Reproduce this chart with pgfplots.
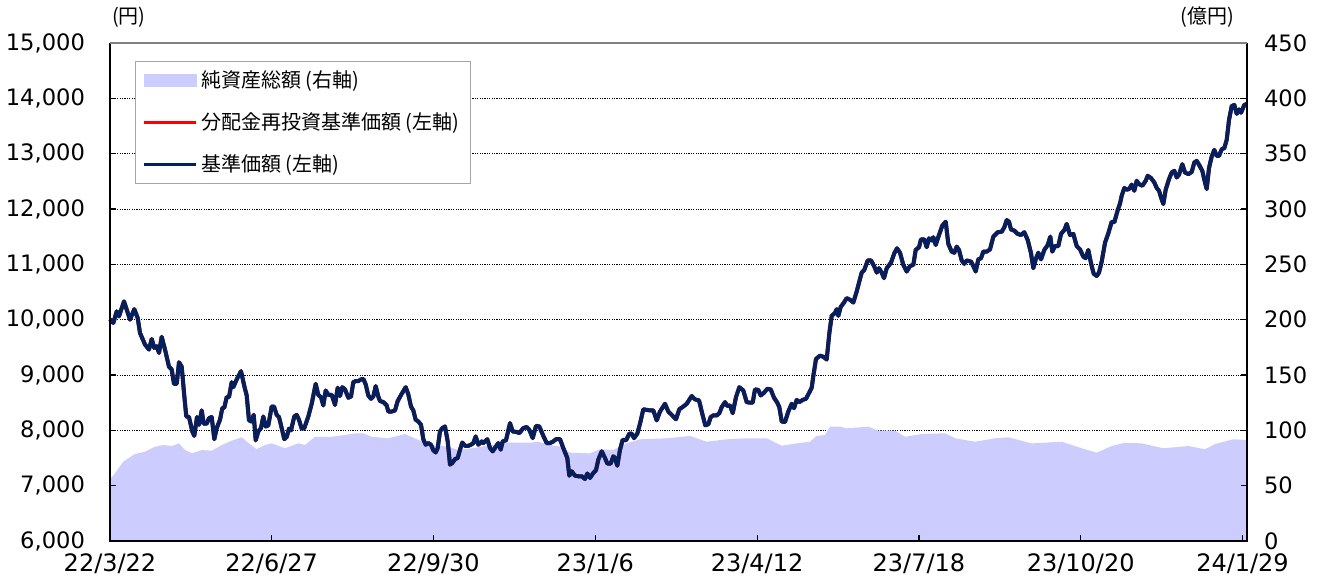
\documentclass[border=0pt]{standalone}
\usepackage{fontspec}
\setmainfont{DejaVu Sans}
\newfontfamily\jp{Noto Sans CJK JP}
\usepackage{pgfplots}
\usepackage{pgfplotstable}
\pgfplotsset{compat=1.18}
\definecolor{navyline}{RGB}{0,32,96}
\definecolor{areacol}{RGB}{204,204,255}

\pgfplotstableread{
x y
110 10010
113.3 9940
116.7 10150
119 10060
124 10330
130 10000
134.3 10190
137.7 10030
140 9760
145 9550
149 9460
151.7 9650
154.3 9490
156.7 9520
159 9400
161.7 9690
165 9460
169 9150
171.7 9100
174 8840
176.7 8840
179 9230
181.7 9150
184.3 8620
186.3 8250
189 8240
192.3 7980
194.3 7900
197 8240
199 8100
201.7 8360
203.7 8120
206.7 8120
209 8220
211.7 8240
214.3 7840
216.7 8040
220 8190
222.3 8400
224.3 8410
226.7 8600
229 8600
231.7 8870
233.3 8780
236.7 8920
241 9070
244.3 8800
246.7 8630
249 8180
251.7 8160
253.7 8280
255.7 7820
258.3 7980
261 8040
263.3 8250
265.7 8070
268.3 8090
271.7 8430
274 8430
276.7 8280
279 8240
281.7 8040
284.3 7840
286.7 7880
289 8030
291 8000
294.3 8250
296.7 8280
299 8190
301.7 8030
304.3 8040
308.3 8250
311.7 8480
315.7 8840
318.3 8640
321 8600
323.3 8450
325.7 8720
328.3 8640
331.7 8640
335 8460
337.7 8770
340 8620
342.3 8780
345 8740
348.3 8590
351 8610
353.3 8870
355.7 8890
358.3 8890
361 8920
363.3 8930
365.7 8830
368.3 8630
371 8570
373.3 8610
375.7 8800
378.3 8610
380 8530
383.3 8510
386.7 8450
388.3 8340
391.7 8340
395 8360
397.7 8530
401.7 8660
405.7 8780
408.3 8650
411 8430
413.3 8360
415.7 8190
418.3 8160
421 8100
423.3 7840
425.7 7740
428.3 7770
431 7740
433.3 7640
435.7 7600
437.7 7680
440 7980
442.3 8040
445 8070
447.7 7800
450 7380
452.3 7410
455 7480
457.7 7500
460 7650
462.3 7780
465 7720
468.3 7720
471 7740
473.3 7770
475.7 7890
478.3 7740
481.7 7800
483.3 7770
487.3 7840
490 7680
492.7 7620
496 7710
498.3 7770
500.7 7650
502.7 7800
506 7820
510 8130
512.7 7980
516.7 7970
519.3 7950
523.3 8040
526.7 8060
529.3 8010
532.7 7860
536 8080
539.3 8070
543.3 7900
546.7 7770
550 7770
553.3 7800
556 7840
560 7840
563.3 7680
567.3 7500
569.3 7180
571.7 7260
575 7180
578.3 7170
581.7 7170
585 7120
587.3 7220
590 7140
593.3 7230
596 7280
598.3 7470
601.7 7620
605 7500
607.3 7400
610.7 7400
613.3 7530
615 7500
617.3 7360
620 7650
622.7 7830
626 7820
629.3 7940
631.7 7940
634 7860
637.3 7940
640 8120
643.3 8380
646.7 8370
650 8360
653.3 8360
656.7 8180
660 8340
665 8480
668.3 8340
671.7 8280
676 8200
679.3 8380
683.3 8430
686.7 8480
691.7 8620
695 8560
699 8540
702.7 8270
705.3 8090
708.3 8110
710.7 8240
713.3 8270
716.7 8270
719.3 8310
721.7 8420
725 8510
727.3 8440
730 8450
732.7 8310
736 8600
739.3 8780
743.3 8720
746.7 8510
750 8500
752.7 8500
755 8740
758.3 8730
760.7 8630
764 8680
767.3 8750
770.7 8740
774 8590
777.3 8500
779.3 8420
781.7 8160
785 8150
788.3 8340
791.7 8480
794 8400
796.7 8550
799.3 8510
802.7 8550
806 8570
808.3 8650
811.7 8770
813.3 8980
816 9290
820 9350
823.3 9330
826.7 9280
829.3 9750
831.7 10070
835 10120
836.7 10190
838.3 10070
840.7 10230
844 10310
846.7 10390
850 10360
853.3 10310
856.7 10510
859.3 10690
861.7 10850
864.3 10900
867.7 11070
871 11070
874.3 10960
876.7 10850
879 10930
881.7 10850
884 10750
886.7 10930
891 11030
894.3 11200
897 11290
900 11210
903.3 10990
906.7 10870
910 10970
913.3 10990
915.7 11260
919 11310
921 11450
924.3 11450
926.7 11310
929 11470
931.7 11430
933.3 11490
935.7 11350
939 11530
942.3 11700
945.7 11770
948.3 11370
951.7 11230
954.3 11210
956.7 11320
959 11260
961.7 11070
964.3 11010
966.7 11070
971 11050
973.3 10970
975.7 10870
978.3 11090
981 11110
983.3 11230
986.7 11230
990 11270
993.3 11500
997.7 11580
1001.7 11590
1004.3 11670
1006.7 11800
1009 11770
1011 11630
1014.3 11610
1017.7 11550
1021 11530
1024.3 11580
1027.7 11440
1031 11200
1033.3 10930
1035.7 11090
1038.3 11210
1041 11090
1044.3 11260
1047.7 11350
1050.3 11500
1052.3 11230
1055 11330
1058.3 11330
1061 11550
1064.3 11620
1066.7 11730
1070 11530
1073.3 11550
1076.7 11330
1080 11270
1083.3 11140
1085.7 11110
1088.3 11260
1091 11020
1093.7 10830
1096.7 10790
1099 10850
1101.7 11050
1105 11390
1108.3 11560
1111.7 11770
1114.3 11760
1117.7 11980
1120 12100
1121.7 12240
1124.3 12380
1126.7 12350
1129 12360
1131.7 12440
1134.3 12330
1136.7 12510
1139 12450
1142.3 12420
1145.7 12510
1147.7 12600
1151 12560
1154.3 12480
1156.7 12380
1159 12330
1161 12210
1163.3 12090
1165.7 12350
1169 12540
1171.7 12660
1174.3 12690
1176.7 12570
1179 12620
1182.3 12810
1185 12660
1188.3 12630
1191.7 12670
1194.3 12840
1196.7 12870
1200 12770
1202.3 12690
1204.3 12530
1206.7 12360
1209 12740
1211.7 12950
1214.3 13070
1216.7 12960
1219 12960
1221.7 13080
1224.3 13100
1226.7 13250
1229 13610
1231.7 13860
1234.3 13880
1236.7 13720
1239 13800
1241 13740
1244.3 13880
1247 13900
}\price

\pgfplotstableread{
x y
110 55.7
115 61.2
123.3 71.7
135 78.6
145 80.7
155 85.2
163.3 86.7
171.7 85.8
179 88.2
185 82.2
192.3 79.2
201.7 82.2
211.7 81.6
221.7 86.7
231.7 90.6
241.7 93.7
248.3 88.8
256.7 82.9
265 86.7
271.7 88.2
285 83.8
298.3 88.2
305 86.7
315 94.2
331.7 94.2
345 95.8
355 97.3
363.3 97.3
371.7 94.2
388.3 92.8
405 96.7
418.3 91.3
431.7 86.7
448.3 85.2
458.3 82.2
471.7 83.8
485 85.8
506.7 88.8
530 88.8
538.3 89.7
550 86.7
561.7 85.2
570 79.8
590 79.2
600 82.9
613.3 82.2
626.7 88.2
640 91.9
666.7 92.8
690 94.9
706.7 89.7
726.7 91.9
746.7 92.8
766.7 92.8
781.7 86.1
796.7 88.2
810 89.7
816.7 94.9
825 95.8
830 103.3
840 103.3
846.7 101.8
860 102.7
868.3 103.3
878.3 99.7
895 99.7
905 94.2
921.7 96.7
945 97.3
955 92.8
975 89.7
995 92.8
1008.3 93.7
1031.7 88.2
1061.7 89.7
1081.7 83.8
1096.7 79.8
1111.7 85.8
1125 88.8
1141.7 88.2
1163.3 83.8
1188.3 85.8
1205 82.9
1215 87.6
1233.3 91.9
1247 91.3
}\assets

\pgfplotsset{
  base/.style={
    scale only axis, width=568.5pt, height=249pt,
    at={(0,0)}, anchor=south west,
    xmin=110, xmax=1247,
    xtick={110,271.7,433.5,595.3,757.1,918.9,1080.7,1242.5},
    scaled ticks=false,
    /pgf/number format/fixed,
    /pgf/number format/assume math mode=true,
    /pgf/number format/1000 sep={,},
    clip=false,
  }
}

\begin{document}
\begin{tikzpicture}
\useasboundingbox (-55pt,-19pt) rectangle (603.5pt,270.5pt);

% Layer A: grid, left tick labels, x tick labels
\begin{axis}[base,
  ymin=6000, ymax=15000, ytick={6000,7000,...,15000},
  ymajorgrids,
  grid style={black, line width=0.5pt, dash pattern=on 0.6pt off 0.6pt},
  axis line style={draw=none},
  major tick length=0pt,
  xtick pos=bottom, ytick pos=left,
  xticklabels={22/3/22,22/6/27,22/9/30,23/1/6,23/4/12,23/7/18,23/10/20,24/1/29},
  xticklabel style={font=\fontsize{12}{14}\selectfont, yshift=-3pt},
  yticklabel style={font=\fontsize{11.3}{13}\selectfont, xshift=-9pt},
]
\addplot[draw=none] coordinates {(110,6000)};
\end{axis}

% Layer B: net assets area, right tick labels
\begin{axis}[base,
  ymin=0, ymax=450, ytick={0,50,...,450},
  axis line style={draw=none},
  major tick length=0pt,
  hide x axis,
  ytick pos=right, yticklabel pos=right,
  yticklabel style={font=\fontsize{11.3}{13}\selectfont, xshift=5pt},
]
\addplot[fill=areacol, draw=none] table {\assets} \closedcycle;
\end{axis}

% Layer C: price lines, ticks, frame, legend
\begin{axis}[base,
  ymin=6000, ymax=15000, ytick={6000,7000,...,15000},
  axis line style={draw=none},
  tick align=inside, major tick length=3pt,
  tick style={black, line width=0.6pt},
  xtick pos=bottom, ytick pos=both,
  xticklabels={}, yticklabels={},
  legend cell align=left,
  legend style={
    at={(0.022,0.964)}, anchor=north west,
    draw=gray!70, line width=0.6pt,
    font=\jp\fontsize{10}{12}\selectfont,
    inner xsep=3.5pt, inner ysep=2.5pt,
    row sep=7pt,
  },
]
\addlegendimage{legend image code/.code={\fill[areacol] (0pt,-3pt) rectangle (26pt,3pt);}}
\addlegendentry{純資産総額\kern.2em(右軸)}
\addplot[red, line width=2pt, line join=round,
  legend image code/.code={\draw[red, line width=1.5pt] (0pt,0pt) -- (26pt,0pt);}]
  table {\price};
\addlegendentry{分配金再投資基準価額\kern.2em(左軸)}
\addplot[navyline, line width=2pt, line join=round,
  legend image code/.code={\draw[navyline, line width=1.5pt] (0pt,0pt) -- (26pt,0pt);}]
  table {\price};
\addlegendentry{基準価額\kern.2em(左軸)}
\draw[black, line width=0.9pt] (rel axis cs:0,1) -- (rel axis cs:0,0) -- (rel axis cs:1,0) -- (rel axis cs:1,1);
\draw[gray, line width=1.2pt] (rel axis cs:0,1) -- (rel axis cs:1,1);
\node[font=\jp\fontsize{10}{12}\selectfont] at (rel axis cs:0.0167,1) [yshift=13pt] {(円)};
\node[font=\jp\fontsize{10}{12}\selectfont] at (rel axis cs:0.965,1) [yshift=13pt] {(億円)};
\end{axis}
\end{tikzpicture}
\end{document}
